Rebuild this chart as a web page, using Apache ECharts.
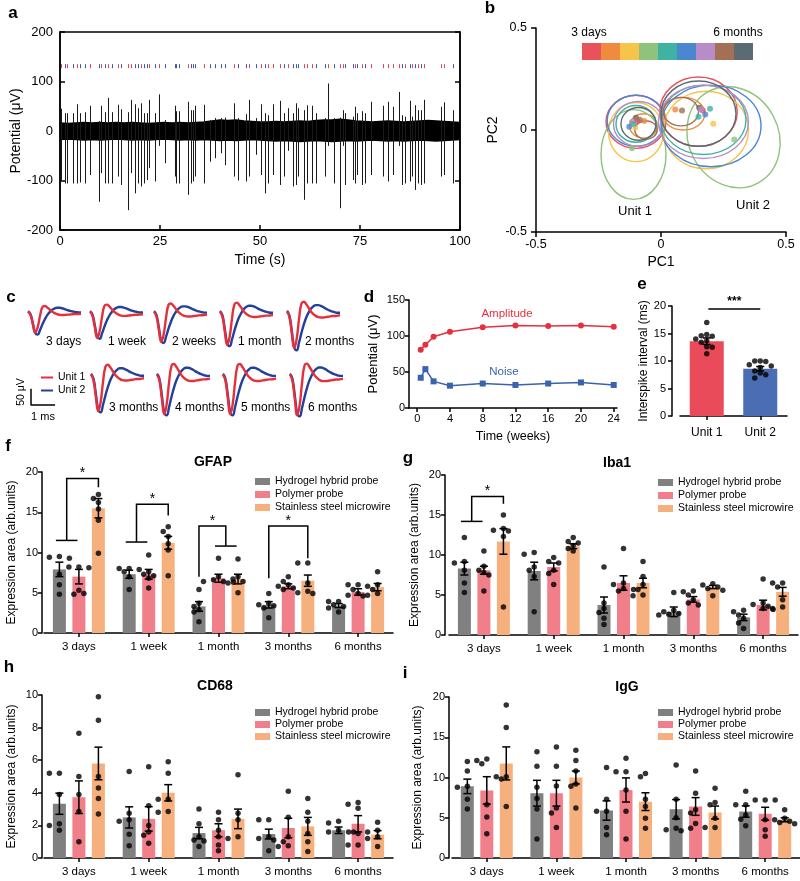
<!DOCTYPE html>
<html>
<head>
<meta charset="utf-8">
<title>Chronic recording and histology</title>
<script src="https://cdn.jsdelivr.net/npm/echarts@6.0.0/dist/echarts.min.js"></script>
<style>
html, body { margin: 0; padding: 0; background: #fff; }
#chart { width: 800px; height: 881px; }
</style>
</head>
<body>
<div id="chart"></div>
<script>
// ---------- a: raw trace ----------
var noiseTimes = [0, 2, 4, 6, 8, 10, 12, 14, 16, 18, 20, 22, 24, 26, 28, 30, 32, 34, 36, 38, 40, 42, 44, 46, 48, 50,
  52, 54, 56, 58, 60, 62, 64, 66, 68, 70, 72, 74, 76, 78, 80, 82, 84, 86, 88, 90, 92, 94, 96, 98, 100];
var noiseUpper = [16, 15, 16, 17, 16, 17, 16, 17, 16, 17, 16, 15, 16, 17, 16, 17, 16, 17, 18, 20, 22, 21, 22, 20, 19, 18,
  18, 19, 18, 19, 20, 19, 21, 22, 22, 24, 22, 20, 19, 18, 19, 20, 19, 18, 19, 20, 21, 20, 19, 18, 17];
var noiseLower = [-17, -16, -17, -18, -17, -18, -17, -16, -17, -18, -17, -18, -17, -16, -17, -18, -17, -18, -17, -18, -19, -18, -19, -18, -17, -18,
  -19, -20, -19, -20, -21, -20, -19, -20, -21, -20, -19, -20, -19, -18, -19, -20, -19, -20, -19, -18, -19, -20, -19, -18, -17];
var spikeTimes = [0.3, 1.2, 1.8, 3.3, 4.3, 4.9, 6.2, 7.4, 9.7, 10.3, 11.2, 12.1, 13.0, 14.6, 15.2, 17.1, 17.8, 18.8, 19.5, 20.3,
  21.0, 21.7, 22.2, 23.7, 24.7, 26.2, 28.7, 29.1, 29.7, 32.0, 32.8, 33.3, 33.7, 36.0, 37.4, 38.8, 40.3, 41.2, 43.5, 44.5,
  46.6, 47.2, 49.1, 50.3, 51.3, 52.0, 53.3, 54.9, 56.0, 57.0, 58.3, 59.1, 59.5, 61.0, 61.8, 63.1, 63.9, 66.2, 67.0, 68.5,
  69.9, 70.8, 71.3, 73.3, 73.7, 74.3, 75.5, 76.2, 77.7, 80.8, 82.0, 83.3, 84.7, 85.5, 86.2, 87.5, 88.0, 88.7, 89.5, 90.3,
  90.9, 95.2, 96.0, 98.3];
var spikeTops = [45, 36, 36, 36, 54, 36, 38, 51, 20, 51, 38, 67, 38, 53, 44, 38, 63, 54, 46, 56,
  36, 36, 63, 36, 74, 22, 51, 40, 40, 59, 42, 42, 51, 53, 22, 26, 26, 27, 56, 26,
  34, 63, 26, 54, 36, 32, 54, 61, 36, 46, 36, 56, 46, 42, 52, 51, 36, 26, 96, 26,
  27, 42, 36, 29, 49, 36, 40, 36, 59, 51, 59, 49, 79, 32, 29, 61, 29, 52, 42, 42,
  63, 49, 58, 42];
var spikeBottoms = [-100, -106, -106, -106, -106, -104, -106, -89, -143, -85, -106, -106, -106, -92, -109, -160, -85, -126, -106, -112,
  -106, -99, -75, -102, -30, -65, -92, -106, -106, -129, -106, -102, -92, -106, -62, -55, -45, -69, -92, -100,
  -102, -92, -48, -89, -126, -106, -89, -109, -92, -40, -112, -109, -92, -139, -106, -106, -106, -92, -30, -106,
  -156, -30, -109, -99, -106, -89, -109, -106, -89, -92, -102, -89, -30, -109, -106, -102, -92, -119, -106, -109,
  -106, -92, -89, -106];
var spikeUnits = [1, 2, 1, 2, 1, 2, 2, 1, 2, 1, 2, 1, 2, 1, 2, 1, 1, 2, 2, 1, 2, 2, 1, 2, 1, 2, 2, 2, 2, 1,
  2, 2, 2, 1, 2, 2, 2, 2, 1, 2, 2, 1, 2, 1, 2, 1, 1, 1, 2, 1, 2, 2, 2, 1, 1, 1, 2, 2, 1, 2,
  1, 1, 2, 2, 1, 2, 1, 2, 1, 1, 1, 1, 1, 2, 1, 2, 1, 2, 1, 2, 1, 1, 1, 2];
var rasterLevel = 131;

// ---------- b: PCA clusters ----------
var timeColors = ['#e8525b', '#f08a3e', '#f7c34b', '#8fc27d', '#3fb3a3', '#4a87cf', '#b88cc6', '#a36f55', '#5b6b74'];
// [cx, cy, rx, ry, rotation(deg), colour index]
var unit1Ellipses = [
  [-0.10, 0.04, 0.12, 0.13, 0, 0], [-0.07, 0.02, 0.055, 0.06, 0, 1], [-0.10, -0.01, 0.11, 0.145, 0, 2],
  [-0.11, -0.12, 0.13, 0.22, 0, 3], [-0.10, 0.03, 0.08, 0.09, 0, 4], [-0.10, 0.045, 0.115, 0.125, 0, 5],
  [-0.09, 0.03, 0.10, 0.11, 0, 6], [-0.06, 0.0, 0.045, 0.045, 0, 7], [-0.09, 0.03, 0.07, 0.08, 0, 8]];
var unit2Ellipses = [
  [0.15, 0.09, 0.155, 0.17, 0, 0], [0.09, 0.08, 0.085, 0.08, 0, 1], [0.18, 0.00, 0.17, 0.19, 0, 2],
  [0.29, -0.035, 0.18, 0.255, 28, 3], [0.17, 0.05, 0.17, 0.17, 0, 4], [0.20, 0.02, 0.20, 0.20, 0, 5],
  [0.17, 0.04, 0.18, 0.18, 0, 6], [0.08, 0.09, 0.07, 0.07, 0, 7], [0.15, 0.08, 0.15, 0.16, 0, 8]];
var clusterCenters = [
  [-0.067, 0.044, 1], [-0.10, 0.06, 8], [-0.116, 0.039, 6], [-0.127, 0.016, 5], [-0.103, 0.011, 2],
  [-0.116, -0.089, 3], [-0.11, 0.03, 4], [-0.095, 0.045, 0], [-0.085, 0.05, 7],
  [0.057, 0.101, 1], [0.084, 0.096, 7], [0.153, 0.109, 8], [0.167, 0.096, 0], [0.16, 0.1, 6],
  [0.196, 0.104, 4], [0.177, 0.076, 5], [0.15, 0.065, 4], [0.209, 0.031, 2], [0.293, -0.046, 3]];

// ---------- c: waveforms ----------
var waveLabels = ['3 days', '1 week', '2 weeks', '1 month', '2 months', '3 months', '4 months', '5 months', '6 months'];
var waveT = [0, 0.1, 0.2, 0.3, 0.4, 0.5, 0.6, 0.7, 0.8, 0.9, 1.0, 1.1, 1.2, 1.3, 1.4, 1.5, 1.6, 1.7, 1.8, 1.9, 2.0, 2.1, 2.2];
var unit1Shape = [0, -0.15, -0.6, -1.0, -0.75, -0.2, 0.22, 0.27, 0.2, 0.1, 0.0, -0.07, -0.12, -0.15, -0.16, -0.16, -0.15, -0.14, -0.13, -0.12, -0.12, -0.11, -0.1];
var unit2Shape = [0.02, -0.1, -0.5, -0.92, -1.0, -0.8, -0.55, -0.33, -0.15, -0.02, 0.08, 0.14, 0.17, 0.17, 0.15, 0.12, 0.08, 0.05, 0.02, 0.0, -0.02, -0.03, -0.03];
var unit1Amp = [40, 50, 58, 64, 70, 70, 76, 76, 78];
var unit2Amp = [44, 52, 60, 66, 74, 72, 78, 78, 80];
var scaleBar = [[1, 0], [0, 0], [0, 50]];

// ---------- d: amplitude / noise ----------
var weeks = [0.43, 1, 2, 4, 8, 12, 16, 20, 24];
var amplitude = [80.8, 87.7, 99, 106, 112, 114.5, 114, 114.5, 113];
var noise = [42, 54, 37, 31, 34, 32, 34, 35.5, 32];
var weekTicks = [0, 4, 8, 12, 16, 20, 24];

// ---------- e: interspike interval ----------
var isiCats = ['Unit 1', 'Unit 2'];
var isiMeans = [13.6, 8.6];
var isiSems = [0.6, 0.4];
var isiUnit1 = [17.0, 14.8, 14.6, 14.5, 14.0, 13.7, 13.4, 12.6, 12.5, 11.3];
var isiUnit2 = [10.0, 10.0, 9.9, 9.3, 9.1, 8.8, 8.2, 7.8, 7.5, 6.9];

// ---------- f-i: histology ----------
var probes = ['Hydrogel hybrid probe', 'Polymer probe', 'Stainless steel microwire'];
var timeCats = ['3 days', '1 week', '1 month', '3 months', '6 months'];

var gfapMeans = [[7.9, 7.3, 3.3, 3.5, 3.4], [7.0, 7.3, 6.8, 5.8, 5.1], [15.5, 11.2, 6.7, 6.5, 5.7]];
var gfapSems = [[0.9, 0.5, 0.6, 0.4, 0.25], [0.9, 0.6, 0.5, 0.3, 0.4], [1.2, 0.8, 0.6, 0.7, 0.45]];
var gfapDots = [
  [[9.5, 9.4, 9.3, 7.3, 6.0, 4.8], [8.0, 8.0, 7.9, 7.6, 7.0, 5.4], [5.4, 3.7, 3.3, 2.9, 2.6, 1.4], [4.9, 3.7, 3.5, 3.4, 3.1, 1.9], [3.9, 3.9, 3.5, 3.3, 3.1, 2.6]],
  [[8.2, 8.2, 8.1, 5.3, 4.8, 4.9], [9.7, 7.6, 7.3, 7.1, 6.8, 5.6], [9.3, 7.0, 6.6, 6.4, 6.4, 6.3], [7.0, 6.4, 6.0, 5.8, 5.6, 5.4], [6.0, 6.0, 5.4, 4.9, 4.7, 4.6]],
  [[17.2, 16.7, 16.2, 15.4, 14.0, 9.9], [13.2, 12.6, 12.0, 11.1, 10.3, 7.1], [9.2, 7.0, 6.7, 6.4, 6.2, 5.0], [8.7, 8.7, 6.2, 5.2, 5.0, 4.9], [7.6, 6.0, 5.8, 5.4, 4.9, 4.7]]];
var gfapBrackets = [
  { cat: 0, left: [0, 1], right: [2], yLeft: 11.5, yTop: 19.2, yRight: 18.1 },
  { cat: 1, left: [0, 1], right: [2], yLeft: 11.3, yTop: 16.0, yRight: 14.6 },
  { cat: 2, left: [0], right: [1, 2], yLeft: 7.0, yTop: 13.3, yRight: 10.8 },
  { cat: 3, left: [0], right: [2], yLeft: 6.8, yTop: 13.3, yRight: 9.3 }];

var iba1Means = [[8.3, 8.0, 3.75, 2.9, 2.2], [8.1, 8.5, 6.5, 4.45, 3.75], [11.7, 11.1, 6.5, 6.0, 5.4]];
var iba1Sems = [[0.8, 1.1, 1.0, 0.6, 0.4], [0.5, 0.5, 0.9, 0.35, 0.6], [1.6, 0.3, 0.6, 0.2, 0.55]];
var iba1Dots = [
  [[12.2, 9.2, 9.0, 8.1, 6.5, 5.3], [10.3, 10.1, 8.5, 8.1, 7.3, 2.9], [8.5, 4.0, 3.3, 2.8, 2.1, 1.3], [5.3, 3.1, 2.9, 2.7, 2.6, 2.5], [3.1, 2.9, 2.5, 2.1, 1.5, 0.8]],
  [[10.5, 8.6, 8.1, 7.8, 7.5, 5.5], [9.7, 9.2, 9.0, 8.1, 7.7, 6.3], [10.8, 6.5, 6.3, 5.8, 5.7, 5.5], [5.5, 5.4, 5.0, 4.4, 4.0, 3.75], [7.0, 4.0, 3.8, 3.6, 3.3, 3.2]],
  [[15.0, 13.3, 13.1, 13.0, 12.3, 3.5], [12.2, 11.7, 11.5, 11.2, 10.8, 10.5], [9.2, 7.3, 6.3, 5.7, 5.0, 4.9], [6.4, 6.25, 6.0, 5.8, 5.6, 4.9], [6.5, 6.5, 6.0, 4.4, 3.5, 3.3]]];
var iba1Brackets = [{ cat: 0, left: [0, 1], right: [2], yLeft: 14.2, yTop: 17.3, yRight: 16.4 }];

var cd68Means = [[3.33, 2.49, 1.53, 1.47, 1.7], [3.73, 2.4, 1.7, 1.84, 2.1], [5.8, 4.0, 2.4, 1.94, 1.43]];
var cd68Sems = [[0.65, 0.65, 0.35, 0.3, 0.2], [1.0, 0.75, 0.4, 0.6, 0.5], [1.0, 0.5, 0.6, 0.55, 0.25]];
var cd68Dots = [
  [[5.2, 5.2, 3.9, 2.1, 2.0, 1.7], [5.3, 2.75, 2.35, 2.25, 1.45, 0.75], [3.0, 2.1, 1.3, 1.1, 1.05, 0.7], [2.35, 2.35, 1.3, 1.2, 1.1, 0.45], [2.25, 2.15, 1.7, 1.6, 1.6, 1.6]],
  [[7.65, 5.0, 3.9, 2.85, 1.0], [5.6, 3.2, 2.0, 1.6, 1.4, 0.9], [2.8, 2.35, 1.7, 1.3, 0.8, 0.45], [4.1, 2.5, 1.3, 1.0, 0.75, 0.7], [3.4, 3.3, 3.05, 1.5, 0.8, 0.8]],
  [[9.9, 8.45, 5.0, 4.3, 3.65, 2.7], [5.9, 5.2, 3.6, 3.6, 2.85, 2.8], [5.1, 2.75, 2.35, 1.3, 1.2], [3.65, 2.8, 2.25, 1.5, 1.0, 0.4], [2.2, 1.7, 1.6, 1.3, 1.2, 0.7]]];

var iggMeans = [[8.9, 8.05, 5.9, 6.06, 5.77], [8.4, 8.05, 8.45, 6.4, 5.5], [11.75, 10.0, 7.0, 5.65, 4.75]];
var iggSems = [[0.9, 1.6, 1.2, 1.2, 0.7], [1.7, 1.6, 1.5, 1.1, 0.8], [2.05, 0.8, 1.1, 0.8, 0.25]];
var iggDots = [
  [[12.0, 10.8, 8.9, 8.8, 7.3, 6.1], [13.2, 11.4, 8.8, 7.4, 6.1, 2.35], [11.25, 7.3, 5.8, 5.8, 3.8, 2.9], [11.55, 7.3, 5.0, 3.7, 3.5, 3.4], [8.3, 6.6, 6.6, 5.35, 4.8, 4.0]],
  [[12.3, 12.1, 11.7, 6.6, 5.1, 3.0], [13.8, 11.4, 8.95, 6.2, 5.6, 3.8], [12.4, 10.7, 10.7, 8.45, 5.8, 2.35], [10.8, 8.05, 6.0, 5.6, 4.3, 3.7], [7.2, 7.2, 7.2, 4.75, 3.5, 2.7]],
  [[19.0, 16.2, 10.1, 10.1, 9.8, 6.4], [13.4, 12.1, 10.8, 9.2, 8.9, 6.2], [10.5, 10.1, 7.3, 6.4, 4.95, 3.7], [8.65, 6.9, 6.6, 4.95, 3.8, 3.8], [6.0, 4.95, 4.75, 4.55, 4.4, 4.25]]];

// ---------- styling ----------
var FONT = 'Liberation Sans';
var CFONT = '"Liberation Sans", Arial, sans-serif';
var probeColors = ['#808080', '#f07f8a', '#f6b07e'];
var isiColors = ['#ea4b5b', '#4b6db4'];
var red = '#e5303c', blue = '#23409a';
var groupOffsets = [-0.2796, 0, 0.2796];

var grids = [], xAxes = [], yAxes = [], series = [], legends = [], graphics = [];
function addGrid(o) { grids.push(o); return grids.length - 1; }
function addX(o) { xAxes.push(o); return xAxes.length - 1; }
function addY(o) { yAxes.push(o); return yAxes.length - 1; }

function blackAxis(extra) {
  var base = {
    axisLine: { show: true, onZero: false, lineStyle: { color: '#000', width: 1.5 } },
    axisTick: { show: true, length: 4, lineStyle: { color: '#000', width: 1.5 } },
    axisLabel: { color: '#000', fontFamily: FONT, fontSize: 11 },
    splitLine: { show: false },
    nameTextStyle: { color: '#000', fontFamily: FONT, fontSize: 12 }
  };
  for (var k in extra) {
    if (base[k] && typeof extra[k] === 'object' && !Array.isArray(extra[k])) base[k] = Object.assign({}, base[k], extra[k]);
    else base[k] = extra[k];
  }
  return base;
}
function hidden(o) { return Object.assign({ type: 'value', show: false, splitLine: { show: false } }, o); }

function txt(x, y, s, size, o) {
  o = o || {};
  graphics.push({
    type: 'text', x: x, y: y, rotation: o.rot || 0, silent: true, z: 10,
    style: {
      text: s, x: 0, y: 0, fill: o.color || '#000',
      font: (o.bold ? 'bold ' : '') + size + 'px ' + CFONT,
      textAlign: o.align || 'center', textVerticalAlign: 'middle',
      align: o.align || 'center', verticalAlign: 'middle'
    }
  });
}

function swarm(vals, pxPerUnit, step, minD) {
  var placed = [], out = [];
  var cands = [0, -1, 1, -2, 2, -3, 3];
  vals.forEach(function (v) {
    var y = v * pxPerUnit, chosen = cands[cands.length - 1] * step;
    for (var i = 0; i < cands.length; i++) {
      var x = cands[i] * step;
      if (placed.every(function (p) { return Math.hypot(p[0] - x, p[1] - y) >= minD; })) { chosen = x; break; }
    }
    placed.push([chosen, y]);
    out.push(chosen);
  });
  return out;
}

function renderErr(params, api) {
  var x = api.value(0), m = api.value(1), s = api.value(2);
  var t = api.coord([x, m + s]), b = api.coord([x, m - s]);
  var w = 4, st = { stroke: '#000', lineWidth: 1.5 };
  return {
    type: 'group', children: [
      { type: 'line', shape: { x1: t[0], y1: t[1], x2: b[0], y2: b[1] }, style: st },
      { type: 'line', shape: { x1: t[0] - w, y1: t[1], x2: t[0] + w, y2: t[1] }, style: st },
      { type: 'line', shape: { x1: b[0] - w, y1: b[1], x2: b[0] + w, y2: b[1] }, style: st }
    ]
  };
}

// ---------- a ----------
var ga = addGrid({ left: 60, top: 32, width: 400, height: 198, show: true, borderColor: '#000', borderWidth: 1.5 });
var ax = addX(blackAxis({ gridIndex: ga, type: 'value', min: 0, max: 100, interval: 25,
  axisTick: { inside: true, length: 5 }, axisLabel: { fontSize: 13, margin: 5 },
  name: 'Time (s)', nameLocation: 'middle', nameGap: 23, nameTextStyle: { fontSize: 14 } }));
var ay = addY(blackAxis({ gridIndex: ga, type: 'value', min: -200, max: 200, interval: 100,
  axisTick: { inside: true, length: 5 }, axisLabel: { fontSize: 13, margin: 7 },
  name: 'Potential (μV)', nameLocation: 'middle', nameGap: 36, nameTextStyle: { fontSize: 14 } }));
addY(blackAxis({ gridIndex: ga, type: 'value', position: 'right', min: -200, max: 200, interval: 100,
  axisTick: { inside: true, length: 5 }, axisLabel: { show: false } }));
series.push({ type: 'line', xAxisIndex: ax, yAxisIndex: ay, symbol: 'none', silent: true, z: 2,
  data: noiseTimes.map(function (t, i) { return [t, noiseUpper[i]]; }),
  lineStyle: { color: '#000', width: 1.5 }, areaStyle: { color: '#000', opacity: 1, origin: 'auto' } });
series.push({ type: 'line', xAxisIndex: ax, yAxisIndex: ay, symbol: 'none', silent: true, z: 2,
  data: noiseTimes.map(function (t, i) { return [t, noiseLower[i]]; }),
  lineStyle: { color: '#000', width: 1.5 }, areaStyle: { color: '#000', opacity: 1, origin: 'auto' } });
series.push({ type: 'custom', xAxisIndex: ax, yAxisIndex: ay, encode: { x: 0, y: 1 }, silent: true, z: 3,
  data: spikeTimes.map(function (t, i) { return [t, spikeTops[i], spikeBottoms[i]]; }),
  renderItem: function (params, api) {
    var a = api.coord([api.value(0), api.value(1)]), b = api.coord([api.value(0), api.value(2)]);
    var x = Math.round(a[0]) + 0.5;
    return { type: 'line', shape: { x1: x, y1: a[1], x2: x, y2: b[1] }, style: { stroke: '#1a1a1a', lineWidth: 1 } };
  } });
series.push({ type: 'custom', xAxisIndex: ax, yAxisIndex: ay, encode: { x: 0, y: 1 }, silent: true, z: 3,
  data: spikeTimes.map(function (t, i) { return [t, rasterLevel, spikeUnits[i]]; }),
  renderItem: function (params, api) {
    var p = api.coord([api.value(0), api.value(1)]);
    var x = Math.round(p[0]) + 0.5;
    return { type: 'line', shape: { x1: x, y1: p[1] - 2, x2: x, y2: p[1] + 2 },
      style: { stroke: api.value(2) === 1 ? '#d9485c' : '#3d58a8', lineWidth: 1 } };
  } });

// ---------- b ----------
var gb = addGrid({ left: 536, top: 28, width: 250, height: 204 });
var bx = addX(blackAxis({ gridIndex: gb, type: 'value', min: -0.5, max: 0.5, interval: 0.5,
  axisTick: { length: 5 }, axisLabel: { fontSize: 12.5, margin: 6 },
  name: 'PC1', nameLocation: 'middle', nameGap: 23, nameTextStyle: { fontSize: 14 } }));
var by = addY(blackAxis({ gridIndex: gb, type: 'value', min: -0.5, max: 0.5, interval: 0.5,
  axisTick: { length: 5 }, axisLabel: { fontSize: 12.5, margin: 9 },
  name: 'PC2', nameLocation: 'middle', nameGap: 36, nameTextStyle: { fontSize: 14 } }));
series.push({ type: 'custom', xAxisIndex: bx, yAxisIndex: by, encode: { x: 0, y: 1 }, silent: true, z: 2,
  data: unit1Ellipses.concat(unit2Ellipses),
  renderItem: function (params, api) {
    var c = api.coord([api.value(0), api.value(1)]);
    var s = api.size([api.value(2), api.value(3)]);
    return { type: 'ellipse', x: c[0], y: c[1], rotation: api.value(4) * Math.PI / 180,
      shape: { cx: 0, cy: 0, rx: s[0], ry: s[1] },
      style: { fill: 'none', stroke: timeColors[api.value(5)], lineWidth: 1.4 } };
  } });
series.push({ type: 'scatter', xAxisIndex: bx, yAxisIndex: by, symbolSize: 6, silent: true, z: 3,
  data: clusterCenters, itemStyle: { color: function (p) { return timeColors[p.data[2]]; } } });
timeColors.forEach(function (c, i) {
  graphics.push({ type: 'rect', silent: true, shape: { x: 582 + i * 19, y: 43, width: 19, height: 17 }, style: { fill: c } });
});
txt(589, 33, '3 days', 12);
txt(738, 33, '6 months', 12);
txt(635, 211, 'Unit 1', 13);
txt(753, 205, 'Unit 2', 13);

// ---------- c ----------
var waveLefts = [28, 90, 154, 220, 287, 91, 157, 223, 290];
var waveTops = [296, 296, 296, 296, 296, 359, 359, 359, 359];
waveLabels.forEach(function (lab, i) {
  var g = addGrid({ left: waveLefts[i], top: waveTops[i], width: 53, height: 60 });
  var x = addX(hidden({ gridIndex: g, min: 0, max: 2.2 }));
  var y = addY(hidden({ gridIndex: g, min: -85, max: 30 }));
  series.push({ type: 'line', name: 'Unit 2', xAxisIndex: x, yAxisIndex: y, smooth: true, symbol: 'none', silent: true,
    data: waveT.map(function (t, k) { return [t, unit2Shape[k] * unit2Amp[i]]; }),
    itemStyle: { color: blue }, lineStyle: { color: blue, width: 2.4 } });
  series.push({ type: 'line', name: 'Unit 1', xAxisIndex: x, yAxisIndex: y, smooth: true, symbol: 'none', silent: true,
    data: waveT.map(function (t, k) { return [t, unit1Shape[k] * unit1Amp[i]]; }),
    itemStyle: { color: red }, lineStyle: { color: red, width: 2.4 } });
  txt(waveLefts[i] + 18, i < 5 ? 342 : 408, lab, 12, { align: 'left' });
});
var gs = addGrid({ left: 31, top: 389.4, width: 53, height: 60 });
var sx = addX(hidden({ gridIndex: gs, min: 0, max: 2.2 }));
var sy = addY(hidden({ gridIndex: gs, min: -85, max: 30 }));
series.push({ type: 'line', xAxisIndex: sx, yAxisIndex: sy, symbol: 'none', silent: true, data: scaleBar,
  lineStyle: { color: '#000', width: 1.5 } });
txt(21, 392, '50 μV', 10.5, { rot: Math.PI / 2 });
txt(43, 417, '1 ms', 11);
legends.push({ data: ['Unit 1', 'Unit 2'], orient: 'vertical', left: 36, top: 367, icon: 'rect', itemWidth: 12, itemHeight: 2,
  itemGap: 2, selectedMode: false, textStyle: { fontFamily: FONT, fontSize: 10.5, color: '#000' } });

// ---------- d ----------
var gd = addGrid({ left: 409, top: 300, width: 208, height: 108 });
var dx = addX(blackAxis({ gridIndex: gd, type: 'value', min: -1, max: 24.4,
  axisTick: { customValues: weekTicks }, axisLabel: { customValues: weekTicks, margin: 5 },
  name: 'Time (weeks)', nameLocation: 'middle', nameGap: 22, nameTextStyle: { fontSize: 12.5 } }));
var dy = addY(blackAxis({ gridIndex: gd, type: 'value', min: 0, max: 150, interval: 50,
  axisLabel: { margin: 4 },
  name: 'Potential (μV)', nameLocation: 'middle', nameGap: 29, nameTextStyle: { fontSize: 13 } }));
series.push({ type: 'line', name: 'Amplitude', xAxisIndex: dx, yAxisIndex: dy, symbol: 'circle', symbolSize: 6, silent: true,
  data: weeks.map(function (w, i) { return [w, amplitude[i]]; }),
  itemStyle: { color: '#e4303f' }, lineStyle: { color: '#e4303f', width: 1.5 } });
series.push({ type: 'line', name: 'Noise', xAxisIndex: dx, yAxisIndex: dy, symbol: 'rect', symbolSize: 6, silent: true,
  data: weeks.map(function (w, i) { return [w, noise[i]]; }),
  itemStyle: { color: '#3b62ad' }, lineStyle: { color: '#3b62ad', width: 1.5 } });
txt(507, 314, 'Amplitude', 11.5, { color: '#e4303f' });
txt(504, 372, 'Noise', 11.5, { color: '#3b62ad' });

// ---------- e ----------
var ge = addGrid({ left: 680, top: 306, width: 107, height: 110 });
var exc = addX(blackAxis({ gridIndex: ge, type: 'category', data: isiCats,
  axisTick: { alignWithLabel: true }, axisLabel: { fontSize: 12, margin: 11 } }));
var exv = addX(hidden({ gridIndex: ge, min: -0.5, max: 1.5 }));
var ey = addY(blackAxis({ gridIndex: ge, type: 'value', min: 0, max: 20, interval: 5, offset: 8,
  axisLabel: { margin: 6 },
  name: 'Interspike interval (ms)', nameLocation: 'middle', nameGap: 20 }));
series.push({ type: 'bar', name: 'ISI', xAxisIndex: exc, yAxisIndex: ey, barWidth: 34, silent: true, z: 2,
  data: isiMeans.map(function (v, i) { return { value: v, itemStyle: { color: isiColors[i] } }; }) });
series.push({ type: 'custom', xAxisIndex: exv, yAxisIndex: ey, encode: { x: 0, y: 1 }, silent: true, z: 3,
  data: isiMeans.map(function (v, i) { return [i, v, isiSems[i]]; }), renderItem: renderErr });
var isiDots = [];
[isiUnit1, isiUnit2].forEach(function (vals, i) {
  var off = swarm(vals, 110 / 20, 5.5, 5.5);
  vals.forEach(function (v, k) { isiDots.push([i + off[k] / 53.5, v]); });
});
series.push({ type: 'scatter', xAxisIndex: exv, yAxisIndex: ey, symbolSize: 5.5, silent: true, z: 4,
  data: isiDots, itemStyle: { color: '#000' } });
series.push({ type: 'custom', xAxisIndex: exv, yAxisIndex: ey, encode: { x: 0, y: 1 }, silent: true, z: 5,
  data: [[0, 19.45]],
  renderItem: function (params, api) {
    var a = api.coord([0.03, api.value(1)]), b = api.coord([1, api.value(1)]);
    return { type: 'group', children: [
      { type: 'line', shape: { x1: a[0], y1: a[1], x2: b[0], y2: b[1] }, style: { stroke: '#000', lineWidth: 1.5 } },
      { type: 'text', style: { text: '***', x: (a[0] + b[0]) / 2, y: a[1] - 1, font: 'bold 12px ' + CFONT, fill: '#000',
        textAlign: 'center', align: 'center', textVerticalAlign: 'bottom', verticalAlign: 'bottom' } }
    ] };
  } });

// ---------- f-i ----------
function bracketRenderer(list) {
  return function (params, api) {
    var b = list[params.dataIndex];
    function foot(gs) {
      var a = b.cat + groupOffsets[gs[0]], z = b.cat + groupOffsets[gs[gs.length - 1]];
      if (gs.length > 1) { a -= 0.05; z -= 0.02; }
      return [a, z];
    }
    var L = foot(b.left), R = foot(b.right);
    var lx = (L[0] + L[1]) / 2, rx = (R[0] + R[1]) / 2;
    var st = { stroke: '#000', lineWidth: 1.5, fill: null };
    var children = [{ type: 'polyline', shape: { points: [api.coord([lx, b.yLeft]), api.coord([lx, b.yTop]), api.coord([rx, b.yTop]), api.coord([rx, b.yRight])] }, style: st }];
    [[L, b.yLeft, b.left], [R, b.yRight, b.right]].forEach(function (f) {
      if (f[2].length > 1) {
        var p1 = api.coord([f[0][0], f[1]]), p2 = api.coord([f[0][1], f[1]]);
        children.push({ type: 'line', shape: { x1: p1[0], y1: p1[1], x2: p2[0], y2: p2[1] }, style: st });
      }
    });
    var top = api.coord([(lx + rx) / 2, b.yTop]);
    children.push({ type: 'text', style: { text: '*', x: top[0], y: top[1] + 2, font: '14px ' + CFONT, fill: '#000',
      textAlign: 'center', align: 'center', textVerticalAlign: 'bottom', verticalAlign: 'bottom' } });
    return { type: 'group', children: children };
  };
}

function probePanel(p) {
  var g = addGrid({ left: p.left, top: p.top, width: 349, height: p.height });
  var xc = addX(blackAxis({ gridIndex: g, type: 'category', data: timeCats,
    axisTick: { alignWithLabel: true }, axisLabel: { fontSize: 11.5, margin: 8 } }));
  var xv = addX(hidden({ gridIndex: g, min: -0.5, max: 4.5 }));
  var yi = addY(blackAxis({ gridIndex: g, type: 'value', min: 0, max: p.max, interval: p.interval, offset: p.yOffset,
    axisLabel: { margin: 4, fontSize: 11 },
    name: 'Expression area (arb.units)', nameLocation: 'middle', nameGap: p.nameGap }));
  probes.forEach(function (name, k) {
    series.push({ type: 'bar', name: name, xAxisIndex: xc, yAxisIndex: yi, data: p.means[k], barWidth: 13, barGap: '50%',
      itemStyle: { color: probeColors[k] }, silent: true, z: 2 });
  });
  var err = [], dots = [];
  var pxPerUnit = p.height / p.max;
  probes.forEach(function (name, k) {
    timeCats.forEach(function (c, ci) {
      err.push([ci + groupOffsets[k], p.means[k][ci], p.sems[k][ci]]);
      var vals = p.dots[k][ci];
      var off = swarm(vals, pxPerUnit, 5, 5.5);
      vals.forEach(function (v, j) { dots.push([ci + groupOffsets[k] + off[j] / 69.8, v]); });
    });
  });
  series.push({ type: 'custom', xAxisIndex: xv, yAxisIndex: yi, encode: { x: 0, y: 1 }, silent: true, z: 3,
    data: err, renderItem: renderErr });
  series.push({ type: 'scatter', xAxisIndex: xv, yAxisIndex: yi, symbolSize: 5.5, silent: true, z: 4,
    data: dots, itemStyle: { color: '#000' } });
  if (p.brackets && p.brackets.length) {
    series.push({ type: 'custom', xAxisIndex: xv, yAxisIndex: yi, encode: { x: 0, y: 1 }, silent: true, z: 5,
      data: p.brackets.map(function (b) { return [b.cat, b.yTop]; }), renderItem: bracketRenderer(p.brackets) });
  }
  legends.push({ data: probes, orient: 'vertical', left: p.legendLeft, top: p.legendTop, icon: 'rect',
    itemWidth: 15, itemHeight: 7, itemGap: p.legendGap, selectedMode: false,
    textStyle: { fontFamily: FONT, fontSize: 10.5, color: '#000' } });
  txt(p.tx, p.ty, p.title, 14, { bold: true });
}

probePanel({ left: 44, top: 472, height: 161, max: 20, interval: 5, yOffset: 2, nameGap: 24,
  means: gfapMeans, sems: gfapSems, dots: gfapDots, brackets: gfapBrackets,
  legendLeft: 250, legendTop: 471, legendGap: 2, title: 'GFAP', tx: 213, ty: 462 });
probePanel({ left: 449, top: 475, height: 160, max: 20, interval: 5, yOffset: 4, nameGap: 24,
  means: iba1Means, sems: iba1Sems, dots: iba1Dots, brackets: iba1Brackets,
  legendLeft: 653, legendTop: 472, legendGap: 2, title: 'Iba1', tx: 617, ty: 463 });
probePanel({ left: 44, top: 695, height: 163, max: 10, interval: 2, yOffset: 2, nameGap: 24,
  means: cd68Means, sems: cd68Sems, dots: cd68Dots, brackets: [],
  legendLeft: 250, legendTop: 702, legendGap: 1, title: 'CD68', tx: 215, ty: 686 });
probePanel({ left: 452, top: 697, height: 161, max: 20, interval: 5, yOffset: 3, nameGap: 25,
  means: iggMeans, sems: iggSems, dots: iggDots, brackets: [],
  legendLeft: 653, legendTop: 702, legendGap: 1, title: 'IgG', tx: 627, ty: 687 });

// panel letters
[['a', 13, 13], ['b', 490, 8], ['c', 11, 297], ['d', 369, 297], ['e', 642, 284],
 ['f', 8, 446], ['g', 408, 458], ['h', 9, 667], ['i', 405, 673]].forEach(function (l) {
  txt(l[1], l[2], l[0], 17, { bold: true });
});

var chart = echarts.init(document.getElementById('chart'), null, { renderer: 'canvas' });
chart.setOption({
  animation: false,
  backgroundColor: '#fff',
  textStyle: { fontFamily: FONT },
  grid: grids,
  xAxis: xAxes,
  yAxis: yAxes,
  legend: legends,
  series: series,
  graphic: graphics
});
</script>
</body>
</html>
